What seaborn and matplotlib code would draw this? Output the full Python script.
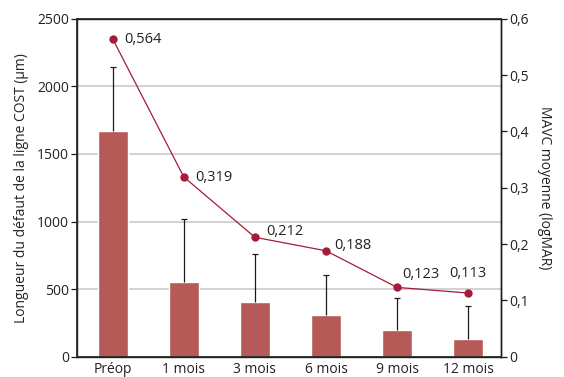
import matplotlib
matplotlib.use("Agg")
import matplotlib.pyplot as plt
import numpy as np
import pandas as pd
import seaborn as sns

sns.set_theme(style="ticks")
plt.rcParams['font.family'] = ['Open Sans', 'DejaVu Sans']

# data
periods = ['Préop', '1 mois', '3 mois', '6 mois', '9 mois', '12 mois']
cost_length = [1672, 553, 405, 309, 198, 132]      # bars (µm)
cost_err_top = [2144, 1017, 762, 607, 432, 378]    # top of error bars (µm)
mavc = [0.564, 0.319, 0.212, 0.188, 0.123, 0.113]  # line (logMAR)

bar_color = '#b55a57'
line_color = '#a51c3a'
text_color = '#222222'

fig = plt.figure(figsize=(5.64, 3.77), dpi=100)
ax = fig.add_axes([0.137, 0.054, 0.751, 0.896])

df = pd.DataFrame({'periode': periods, 'cost': cost_length})
sns.barplot(data=df, x='periode', y='cost', color=bar_color, saturation=1,
            width=0.42, ax=ax, zorder=2)

# upper error bars only
x = np.arange(len(periods))
upper = np.array(cost_err_top) - np.array(cost_length)
eb = ax.errorbar(x, cost_length, yerr=[np.zeros_like(upper), upper], fmt='none',
                 ecolor='#1a1a1a', elinewidth=0.9, capsize=2, capthick=0.9,
                 zorder=3)
eb[1][0].set_visible(False)  # hide the lower caps

ax.set_ylim(0, 2500)
ax.set_xlim(-0.5, 5.46)
ax.set_yticks(range(0, 2501, 500))
ax.yaxis.grid(True, color='#c6c6c6', linewidth=1.1, zorder=0)
ax.set_axisbelow(True)
ax.set_xlabel('')
ax.set_ylabel('Longueur du défaut de la ligne COST (µm)', fontsize=10,
              color=text_color, labelpad=6)
ax.tick_params(axis='y', length=4, width=0.9, colors='#1a1a1a',
               labelcolor=text_color, labelsize=10, pad=2)
ax.tick_params(axis='x', length=0, labelcolor=text_color, labelsize=10, pad=4)

for side in ['left', 'right', 'top', 'bottom']:
    ax.spines[side].set_color('#1a1a1a')
    ax.spines[side].set_linewidth(1.0)

# second axis: visual acuity
ax2 = ax.twinx()
sns.lineplot(x=x, y=mavc, ax=ax2, color=line_color, linewidth=0.9,
             marker='o', markersize=6, markeredgewidth=0, zorder=4)
ax2.set_ylim(0, 0.6)
ax2.set_yticks(np.arange(0, 0.61, 0.1))
ax2.set_yticklabels(['0'] + [f'0,{i}' for i in range(1, 7)])
ax2.set_ylabel('MAVC moyenne (logMAR)', fontsize=10, color=text_color,
               rotation=270, labelpad=17)
ax2.tick_params(axis='y', length=4, width=0.9, colors='#1a1a1a',
                labelcolor=text_color, labelsize=10, pad=2)
ax2.spines['right'].set_color('#1a1a1a')
ax2.spines['right'].set_linewidth(1.0)

# value labels next to the points (offsets in points)
label_offsets = [(8, 0), (8, 0), (8, 4), (6, 4), (4, 9), (0, 14)]
for i, v in enumerate(mavc):
    dx, dy = label_offsets[i]
    ha = 'center' if i == 5 else 'left'
    ax2.annotate(f'{v:.3f}'.replace('.', ','), (x[i], v), xytext=(dx, dy),
                 textcoords='offset points', ha=ha, va='center',
                 fontsize=10.5, color=text_color)

fig.savefig('out.png', dpi=100)
